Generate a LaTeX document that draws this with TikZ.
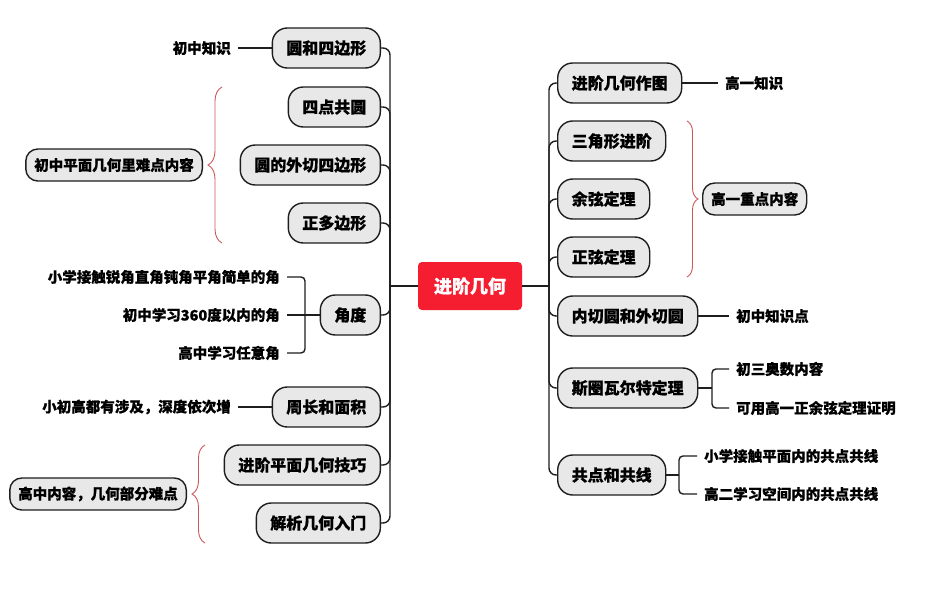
\documentclass[tikz,border=0pt]{standalone}
\usepackage{fontspec}
\setmainfont{Noto Sans CJK SC}[BoldFeatures={FakeBold=0.6}]
\usetikzlibrary{decorations.pathreplacing}
\definecolor{nodefill}{HTML}{E8E8E8}
\definecolor{nodeline}{HTML}{1E1E1E}
\definecolor{centerred}{HTML}{F51D30}
\definecolor{bracered}{HTML}{C9585A}
\begin{document}
\begin{tikzpicture}[x=1pt,y=-1pt,
  topic/.style={draw=nodeline, line width=1.4pt, fill=nodefill, rounded corners=15pt,
    minimum height=40pt, inner xsep=14pt, inner ysep=0pt,
    font=\fontsize{16pt}{16pt}\selectfont\bfseries},
  note/.style={draw=nodeline, line width=1.4pt, fill=nodefill, rounded corners=12pt,
    minimum height=32pt, inner xsep=8.5pt, inner ysep=0pt,
    font=\fontsize{14.5pt}{14.5pt}\selectfont\bfseries},
  leaf/.style={inner xsep=7pt, inner ysep=2pt, font=\fontsize{14.5pt}{14.5pt}\selectfont\bfseries},
  conn/.style={draw=nodeline, line width=1.4pt},
  bracebig/.style={draw=bracered, line width=0.9pt, decorate, decoration={brace, amplitude=#1}},
]
\useasboundingbox[fill=white] (0,0) rectangle (932,594);

% center
\node[fill=centerred, rounded corners=4pt, minimum width=104pt, minimum height=48pt,
  text=white, font=\fontsize{18pt}{18pt}\selectfont\bfseries] (c) at (470,286) {进阶几何};
\coordinate (LT) at (390,286);
\coordinate (RT) at (549,286);

% left topics
\node[topic, anchor=east] (l1) at (381,48) {圆和四边形};
\node[topic, anchor=east] (l2) at (381,107) {四点共圆};
\node[topic, anchor=east] (l3) at (381,165) {圆的外切四边形};
\node[topic, anchor=east] (l4) at (381,223) {正多边形};
\node[topic, anchor=east] (l5) at (381,315) {角度};
\node[topic, anchor=east] (l6) at (381,407) {周长和面积};
\node[topic, anchor=east] (l7) at (381,465) {进阶平面几何技巧};
\node[topic, anchor=east] (l8) at (381,523) {解析几何入门};

% right topics
\node[topic, anchor=west] (r1) at (557,83) {进阶几何作图};
\node[topic, anchor=west] (r2) at (557,141) {三角形进阶};
\node[topic, anchor=west] (r3) at (557,199) {余弦定理};
\node[topic, anchor=west] (r4) at (557,257) {正弦定理};
\node[topic, anchor=west] (r5) at (557,316) {内切圆和外切圆};
\node[topic, anchor=west] (r6) at (557,388) {斯圈瓦尔特定理};
\node[topic, anchor=west] (r7) at (557,475) {共点和共线};

% trunks
\draw[conn] (c.west) -- (LT);
\draw[conn] (c.east) -- (RT);
\foreach \n in {l1,l2,l3,l4,l5,l6,l7,l8}
  \draw[conn, rounded corners=7pt] (LT) |- (\n.east);
\foreach \n in {r1,r2,r3,r4,r5,r6,r7}
  \draw[conn, rounded corners=7pt] (RT) |- (\n.west);

% left leaves
\node[leaf, anchor=east] (k1) at (238,48) {初中知识};
\draw[conn] (k1.east) -- (l1.west);

\node[leaf, anchor=east] (a1) at (287,277) {小学接触锐角直角钝角平角简单的角};
\node[leaf, anchor=east] (a2) at (287,315) {初中学习360度以内的角};
\node[leaf, anchor=east] (a3) at (287,353) {高中学习任意角};
\coordinate (af) at (305,315);
\draw[conn] (l5.west) -- (af);
\draw[conn] (a2.east) -- (af);
\draw[conn, rounded corners=4pt] (a1.east) -| (af) |- (a3.east);

\node[leaf, anchor=east] (p1) at (238,407) {小初高都有涉及，深度依次增};
\draw[conn] (p1.east) -- (l6.west);

\node[note, anchor=east] (s1) at (203,165) {初中平面几何里难点内容};
\coordinate (b1a) at (222,243);
\coordinate (b1b) at (222,87);
\draw[bracebig=14pt] (b1a) -- (b1b);

\node[note, anchor=east] (s2) at (187,494) {高中内容，几何部分难点};
\coordinate (b2a) at (205,543);
\coordinate (b2b) at (205,445);
\draw[bracebig=13pt] (b2a) -- (b2b);

% right leaves
\node[leaf, anchor=west] (q1) at (718,83) {高一知识};
\draw[conn] (r1.east) -- (q1.west);

\node[note, anchor=west] (s3) at (702,199) {高一重点内容};
\coordinate (b3a) at (687,121);
\coordinate (b3b) at (687,277);
\draw[bracebig=11pt] (b3a) -- (b3b);

\node[leaf, anchor=west] (q2) at (729,316) {初中知识点};
\draw[conn] (r5.east) -- (q2.west);

\node[leaf, anchor=west] (q3) at (729,369) {初三奥数内容};
\node[leaf, anchor=west] (q4) at (729,408) {可用高一正余弦定理证明};
\coordinate (sf) at (712,388);
\draw[conn] (r6.east) -- (sf);
\draw[conn, rounded corners=4pt] (q3.west) -| (sf) |- (q4.west);

\node[leaf, anchor=west] (q5) at (697,456) {小学接触平面内的共点共线};
\node[leaf, anchor=west] (q6) at (697,494) {高二学习空间内的共点共线};
\coordinate (gf) at (679,475);
\draw[conn] (r7.east) -- (gf);
\draw[conn, rounded corners=4pt] (q5.west) -| (gf) |- (q6.west);
\end{tikzpicture}
\end{document}
